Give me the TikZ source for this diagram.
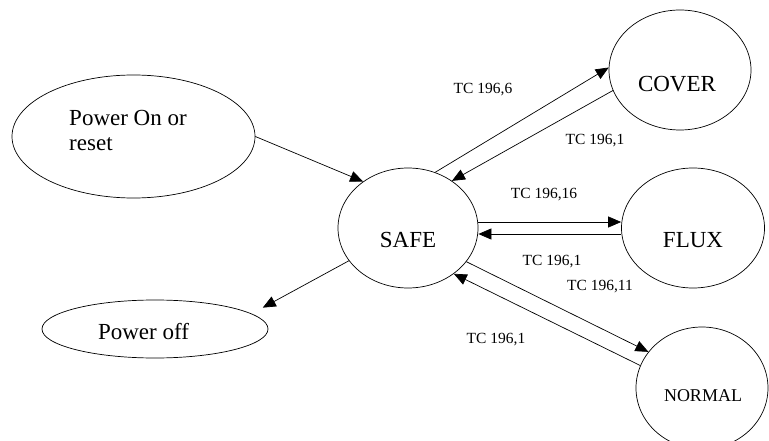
\documentclass[tikz,border=0pt]{standalone}
\usepackage{fontspec}
\setmainfont{Liberation Serif}
\usetikzlibrary{shapes.geometric,arrows.meta}

\begin{document}
\begin{tikzpicture}[
    x=1pt, y=-1pt,
    state/.style={draw, ellipse, inner sep=0pt, line width=0.7pt},
    big/.style={font=\fontsize{23}{25}\selectfont},
    tc/.style={font=\fontsize{15.5}{18}\selectfont},
    trans/.style={line width=0.7pt, -{Triangle[length=13pt,width=11pt]}}
]
\useasboundingbox (0,0) rectangle (769,441);
\clip (0,0) rectangle (769,441);

% states
\node[state, minimum width=243pt, minimum height=123pt,
      label={[big, align=left, xshift=-5.5pt, yshift=6.5pt]center:Power On or\\reset}] (pon) at (133.5,136.5) {};
\node[state, minimum width=226pt, minimum height=58pt,
      label={[big, xshift=-11.5pt, yshift=-2.5pt]center:Power off}] (poff) at (155,329) {};
\node[state, minimum width=140pt, minimum height=120pt,
      label={[big, yshift=-12pt]center:SAFE}] (safe) at (408,228) {};
\node[state, minimum width=142pt, minimum height=120pt,
      label={[big, xshift=-3pt, yshift=-14.5pt]center:COVER}] (cover) at (680,70) {};
\node[state, minimum width=143pt, minimum height=120pt,
      label={[big, yshift=-12pt]center:FLUX}] (flux) at (693,228) {};
\node[state, minimum width=132pt, minimum height=122pt,
      label={[font=\fontsize{18}{20}\selectfont, xshift=1pt, yshift=-7.5pt]center:NORMAL}] (normal) at (702,388) {};

% transitions
\draw[trans] (pon.east) -- (safe.134);
\draw[trans, shorten >=12.6pt] (safe.209) -- (poff.9);
\draw[trans] (safe.64) -- (cover.178);
\draw[trans] (cover.197) -- (safe.47);
\draw[trans] ([yshift=6pt]safe.east) -- ([yshift=6pt]flux.west);
\draw[trans] ([yshift=-6pt]flux.west) -- ([yshift=-6pt]safe.east);
\draw[trans] (safe.330) -- (normal.146);
\draw[trans] (normal.160) -- (safe.315);

% telecommands
\node[tc] (tc6)  at (483,90)  {TC 196,6};
\node[tc] (tc1a) at (595,141) {TC 196,1};
\node[tc] (tc16) at (544,195) {TC 196,16};
\node[tc] (tc1b) at (552,262) {TC 196,1};
\node[tc] (tc11) at (600,287) {TC 196,11};
\node[tc] (tc1c) at (496,340) {TC 196,1};
\end{tikzpicture}
\end{document}
